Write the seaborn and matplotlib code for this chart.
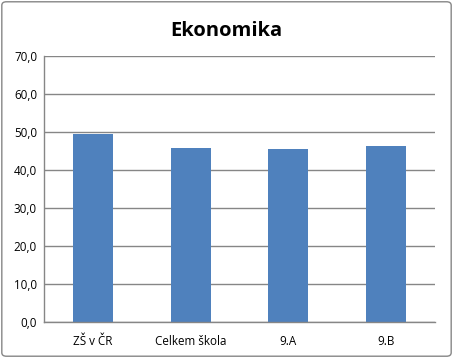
import matplotlib
matplotlib.use("Agg")
import matplotlib.pyplot as plt
import seaborn as sns
import pandas as pd
from matplotlib.patches import FancyBboxPatch

categories = ["ZŠ v ČR", "Celkem škola", "9.A", "9.B"]
values = [49.6, 45.9, 45.6, 46.4]
yticks = [0, 10, 20, 30, 40, 50, 60, 70]
ytick_labels = ["0,0", "10,0", "20,0", "30,0", "40,0", "50,0", "60,0", "70,0"]

df = pd.DataFrame({"kategorie": categories, "hodnota": values})

sns.set_style("white")
plt.rcParams["font.family"] = ["Open Sans", "DejaVu Sans"]

fig = plt.figure(figsize=(4.53, 3.58), dpi=100)
ax = fig.add_axes([44 / 453, 35.7 / 358, 391 / 453, 266.3 / 358])

sns.barplot(data=df, x="kategorie", y="hodnota", color="#4F81BD",
            width=0.41, saturation=1, linewidth=0, ax=ax)

ax.set_ylim(0, 70)
ax.set_xlim(-0.5, 3.5)
ax.set_yticks(yticks)
ax.set_yticklabels(ytick_labels, fontsize=8.4, color="black")
ax.tick_params(axis="x", labelsize=8.4, labelcolor="black", length=0, pad=9)
ax.tick_params(axis="y", length=0, pad=5)
ax.set_xlabel("")
ax.set_ylabel("")
ax.yaxis.grid(True, color="#868686", linewidth=1)
ax.set_axisbelow(True)
for side in ["top", "right"]:
    ax.spines[side].set_visible(False)
for side in ["left", "bottom"]:
    ax.spines[side].set_color("#868686")
    ax.spines[side].set_linewidth(1)

fig.text(0.5, 1 - 31 / 358, "Ekonomika", ha="center", va="center",
         fontsize=14.5, fontweight="bold", color="black")

border = FancyBboxPatch((0.004, 0.005), 0.992, 0.99, boxstyle="round,pad=0,rounding_size=0.01",
                        transform=fig.transFigure, fill=False, edgecolor="#868686", linewidth=1)
fig.patches.append(border)

fig.savefig("out.png", dpi=100)
